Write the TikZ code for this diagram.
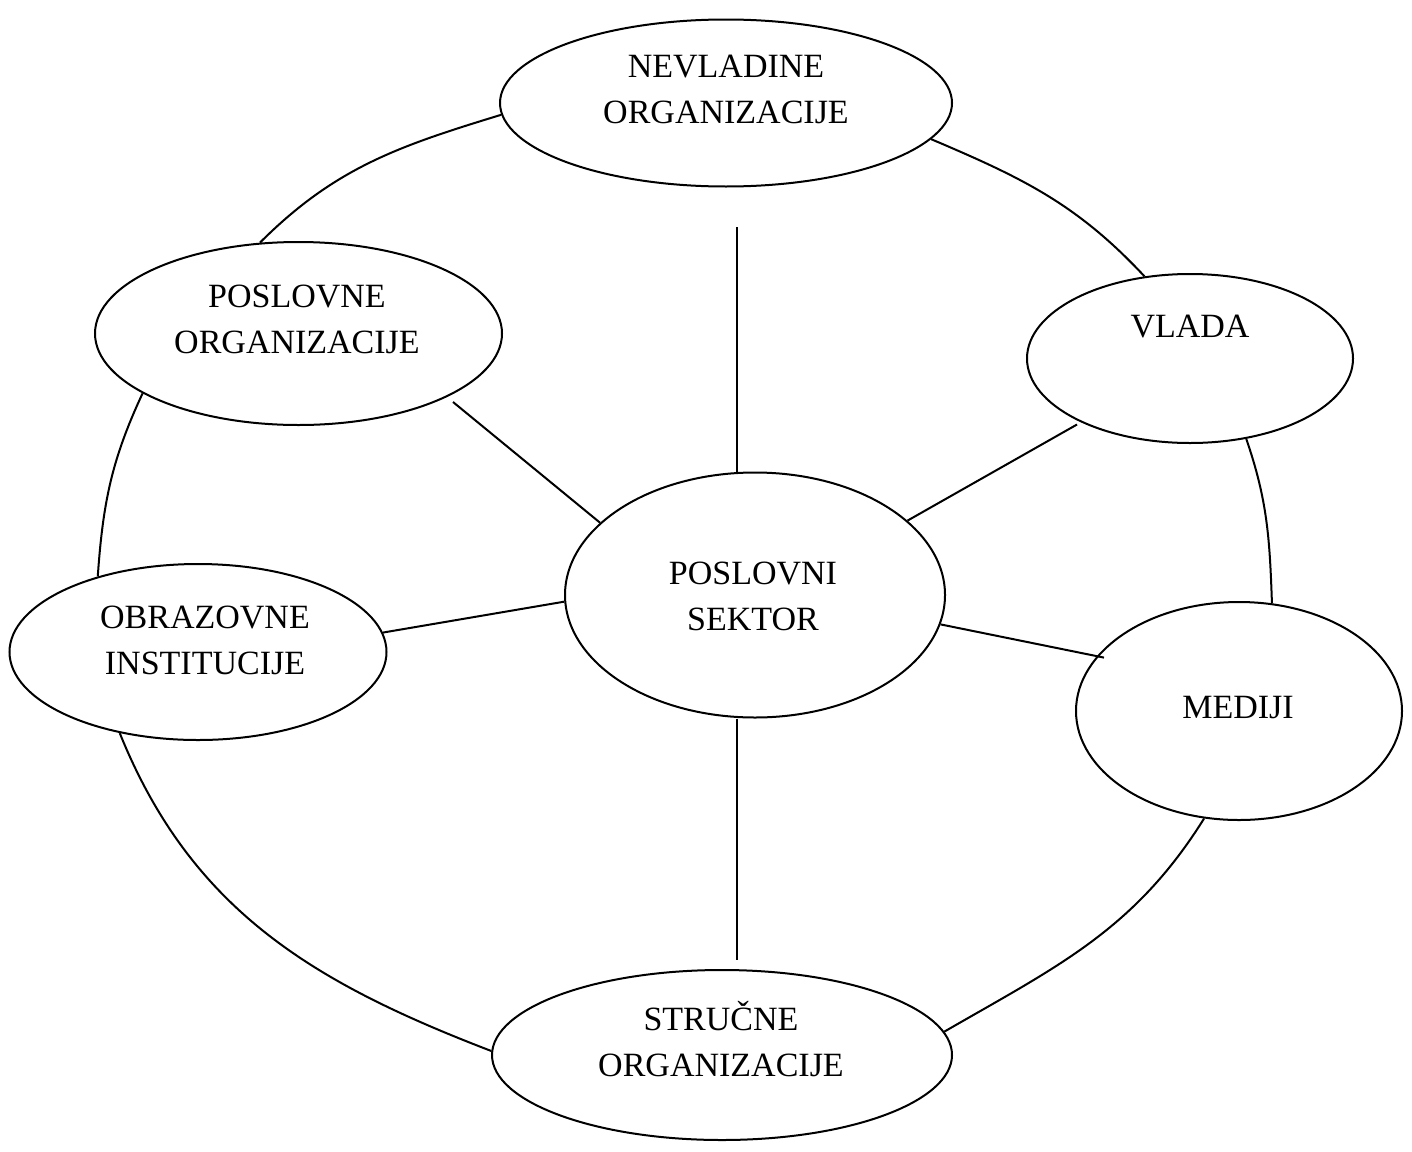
\documentclass[tikz,border=0pt]{standalone}
\usepackage{fontspec}
\setmainfont{Liberation Serif}
\usetikzlibrary{shapes.geometric}
\begin{document}
\begin{tikzpicture}[x=1pt,y=1pt,
  oval/.style={draw=black,line width=2pt,ellipse,inner sep=0pt},
  lbl/.style={font=\fontsize{34}{46}\selectfont,align=center,inner sep=0pt},
  link/.style={draw=black,line width=2pt}]
\useasboundingbox (0,0) rectangle (1412,-1151);
% ellipses
\node[oval,minimum width=452,minimum height=167] (nvo) at (726,-103) {};
\node[oval,minimum width=407,minimum height=183] (pos) at (298.5,-333.5) {};
\node[oval,minimum width=326,minimum height=169] (vlada) at (1190,-358.5) {};
\node[oval,minimum width=380,minimum height=245] (sektor) at (755,-595) {};
\node[oval,minimum width=377,minimum height=176] (obr) at (198,-652) {};
\node[oval,minimum width=326,minimum height=218] (mediji) at (1239,-711) {};
\node[oval,minimum width=460,minimum height=170] (str) at (722,-1055) {};
% labels
\node[lbl] (tnvo) at (726,-89) {NEVLADINE\\ORGANIZACIJE};
\node[lbl] (tpos) at (297,-319) {POSLOVNE\\ORGANIZACIJE};
\node[lbl] (tvlada) at (1190,-327) {VLADA};
\node[lbl] (tsektor) at (753,-596.5) {POSLOVNI\\SEKTOR};
\node[lbl] (tobr) at (205,-640) {OBRAZOVNE\\INSTITUCIJE};
\node[lbl] (tmediji) at (1238,-708) {MEDIJI};
\node[lbl] (tstr) at (721,-1039.5) {STRUČNE\\ORGANIZACIJE};
% free ends of spokes
\coordinate (v1) at (737,-227);
\coordinate (v2) at (737,-960);
\coordinate (p1) at (453,-402);
\coordinate (q1) at (1077,-424.5);
\coordinate (m1) at (1104,-657.6);
% spokes
\draw[link] (v1) -- (v1 |- sektor.north);
\draw[link] (v2 |- sektor.south) -- (v2);
\draw[link] (p1) -- (sektor.155);
\draw[link] (q1) -- (sektor.26);
\draw[link] (obr.6) -- (sektor.182);
\draw[link] (sektor.351) -- (m1);
% outer ring arcs
\draw[link] (pos.113) to[out=45,in=197] (nvo.183);
\draw[link] (nvo.350) to[out=-23,in=133] (vlada.119);
\draw[link] (vlada.305) to[out=-71,in=92] (mediji.73);
\draw[link] (mediji.252) to[out=238,in=30] (str.6);
\draw[link] (obr.226) to[out=-68,in=159] (str.179.5);
\draw[link] (pos.201) to[out=245,in=86] (obr.143);
\end{tikzpicture}
\end{document}
